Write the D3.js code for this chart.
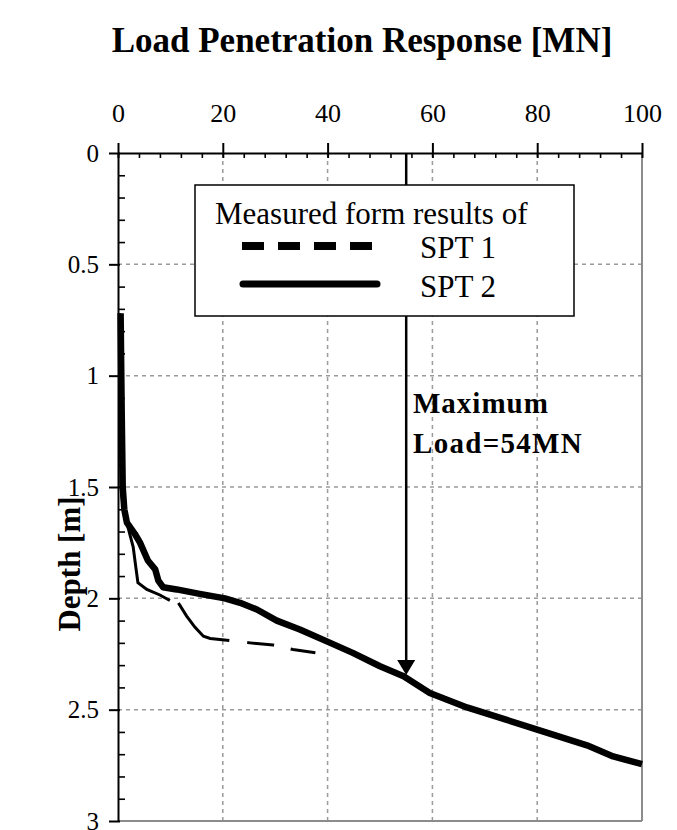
<!DOCTYPE html>
<html>
<head>
<meta charset="utf-8">
<script src="https://cdn.jsdelivr.net/npm/d3@7"></script>
<style>
  html, body { margin: 0; padding: 0; background: #fff; }
  svg { display: block; }
  text { font-family: "Liberation Serif", "Times New Roman", serif; fill: #000; }
</style>
</head>
<body>
<svg id="chart" width="677" height="830"></svg>
<script>
// ---- data ----
const xMajorTicks = [0, 20, 40, 60, 80, 100];
const yMajorTicks = [0, 0.5, 1, 1.5, 2, 2.5, 3];
const yTickLabels = ["0", "0.5", "1", "1.5", "2", "2.5", "3"];

const spt1Load  = [0.3, 0.5, 0.6, 1.0, 1.9, 2.9, 3.4, 3.8, 5.5, 8.0, 9.9, 11.5, 13.1, 14.7, 16.3, 17.6, 21.4, 25.2, 29.6, 33.4, 38.0];
const spt1Depth = [0.72, 1.15, 1.5, 1.6, 1.68, 1.77, 1.86, 1.93, 1.96, 1.985, 2.01, 2.02, 2.08, 2.13, 2.17, 2.18, 2.19, 2.2, 2.21, 2.23, 2.245];
const spt1SolidCount = 11; // points drawn as the continuous part

const spt2Load  = [0.5, 0.7, 0.9, 1.2, 1.7, 3.2, 4.2, 5.7, 7.1, 7.7, 8.6, 11.2, 15.6, 20.4, 23.3, 26.5, 30.3, 34.7, 40.5, 44.8, 50.0, 54.5, 59.5, 66.6, 74.2, 80.0, 89.5, 94.5, 100];
const spt2Depth = [0.72, 1.15, 1.5, 1.6, 1.66, 1.71, 1.75, 1.83, 1.87, 1.92, 1.95, 1.96, 1.98, 2.0, 2.02, 2.05, 2.10, 2.14, 2.2, 2.245, 2.305, 2.35, 2.425, 2.49, 2.546, 2.59, 2.66, 2.71, 2.745];

const maxLoad = 55;       // arrow position
const maxArrowDepth = 2.344;

const title = "Load Penetration Response [MN]";
const yTitle = "Depth [m]";
const legendTitle = "Measured form results of";
const seriesNames = ["SPT 1", "SPT 2"];
const annotation = ["Maximum", "Load=54MN"];

// ---- layout ----
const svg = d3.select("#chart");
const L = 118, R = 642, T = 153, B = 821;
const x = d3.scaleLinear().domain([0, 100]).range([L, R]);
const y = d3.scaleLinear().domain([0, 3]).range([T, B]);

// grid
const grid = svg.append("g");
grid.selectAll("line.gx").data(xMajorTicks.filter(v => v > 0 && v < 100)).join("line")
  .attr("x1", d => x(d)).attr("x2", d => x(d)).attr("y1", T).attr("y2", B)
  .attr("stroke", "#9a9a9a").attr("stroke-width", 1.5).attr("stroke-dasharray", "4,4");
grid.selectAll("line.gy").data(yMajorTicks.filter(v => v > 0 && v < 3)).join("line")
  .attr("x1", L).attr("x2", R).attr("y1", d => y(d)).attr("y2", d => y(d))
  .attr("stroke", "#9a9a9a").attr("stroke-width", 1.5).attr("stroke-dasharray", "4,4");

// right & bottom borders
svg.append("line").attr("x1", R).attr("x2", R).attr("y1", T).attr("y2", B)
  .attr("stroke", "#8c8c8c").attr("stroke-width", 2);
svg.append("line").attr("x1", L).attr("x2", R).attr("y1", B).attr("y2", B)
  .attr("stroke", "#8c8c8c").attr("stroke-width", 2);

// curves
const line = d3.line().x(d => x(d[0])).y(d => y(d[1]));
const spt1 = spt1Load.map((v, i) => [v, spt1Depth[i]]);
const spt2 = spt2Load.map((v, i) => [v, spt2Depth[i]]);

const tmp = svg.append("path").attr("d", line(spt1.slice(0, spt1SolidCount)));
const solidLen = tmp.node().getTotalLength();
tmp.remove();

svg.append("path").attr("d", line(spt1)).attr("fill", "none")
  .attr("stroke", "#000").attr("stroke-width", 3)
  .attr("stroke-dasharray", `${solidLen},9,68,18,27,17,25,400`);
svg.append("path").attr("d", line(spt2)).attr("fill", "none")
  .attr("stroke", "#000").attr("stroke-width", 6.5).attr("stroke-linejoin", "round");

// arrow
const ax = x(maxLoad), tipY = y(maxArrowDepth);
svg.append("line").attr("x1", ax).attr("x2", ax).attr("y1", T).attr("y2", tipY - 12)
  .attr("stroke", "#000").attr("stroke-width", 2.5);
svg.append("path").attr("d", `M${ax - 9},${tipY - 15}L${ax + 9},${tipY - 15}L${ax},${tipY}Z`)
  .attr("fill", "#000");

// axes
const topAxis = svg.append("g").attr("transform", `translate(0,${T})`)
  .call(d3.axisTop(x).tickValues(xMajorTicks).tickSize(10).tickSizeOuter(0).tickPadding(21).tickFormat(d3.format("d")));
topAxis.select(".domain").attr("stroke-width", 2);
topAxis.selectAll(".tick line").attr("y1", 5).attr("stroke-width", 2);
topAxis.selectAll(".tick text").attr("font-size", 26).attr("font-family", "Liberation Serif");

const xMinor = d3.range(0, 101, 4).filter(v => v % 20 !== 0);
svg.append("g").attr("transform", `translate(0,${T})`)
  .call(d3.axisTop(x).tickValues(xMinor).tickSize(-5).tickSizeOuter(0).tickFormat(""))
  .call(g => g.select(".domain").remove())
  .selectAll(".tick line").attr("stroke-width", 1.6);

const leftAxis = svg.append("g").attr("transform", `translate(${L},0)`)
  .call(d3.axisLeft(y).tickValues(yMajorTicks).tickSize(9).tickSizeOuter(0).tickPadding(10)
    .tickFormat((d, i) => yTickLabels[i]));
leftAxis.select(".domain").attr("stroke-width", 2);
leftAxis.selectAll(".tick line").attr("x1", 2).attr("stroke-width", 2);
leftAxis.selectAll(".tick text").attr("font-size", 25).attr("font-family", "Liberation Serif");

const yMinor = d3.range(1, 30).map(v => v / 10).filter(v => Math.abs(v * 2 - Math.round(v * 2)) > 1e-6);
svg.append("g").attr("transform", `translate(${L},0)`)
  .call(d3.axisLeft(y).tickValues(yMinor).tickSize(-7).tickSizeOuter(0).tickFormat(""))
  .call(g => g.select(".domain").remove())
  .selectAll(".tick line").attr("stroke-width", 1.6);

// legend
const lg = svg.append("g");
lg.append("rect").attr("x", 195).attr("y", 185).attr("width", 379).attr("height", 131)
  .attr("fill", "#fff").attr("stroke", "#000").attr("stroke-width", 1.5);
lg.append("text").attr("x", 215).attr("y", 224).attr("font-size", 31).text(legendTitle);
lg.append("line").attr("x1", 242).attr("x2", 376).attr("y1", 246).attr("y2", 246)
  .attr("stroke", "#000").attr("stroke-width", 8).attr("stroke-dasharray", "22,14");
lg.append("line").attr("x1", 243).attr("x2", 377).attr("y1", 284).attr("y2", 284)
  .attr("stroke", "#000").attr("stroke-width", 7).attr("stroke-linecap", "round");
lg.append("text").attr("x", 420).attr("y", 258).attr("font-size", 31).text(seriesNames[0]);
lg.append("text").attr("x", 420).attr("y", 297).attr("font-size", 31).text(seriesNames[1]);

// annotation
svg.append("text").attr("x", 413).attr("y", 413).attr("font-size", 29).attr("font-weight", "bold")
  .attr("letter-spacing", 1).text(annotation[0]);
svg.append("text").attr("x", 413).attr("y", 453).attr("font-size", 29).attr("font-weight", "bold")
  .attr("letter-spacing", 1.3).text(annotation[1]);

// titles
svg.append("text").attr("x", 362).attr("y", 52).attr("text-anchor", "middle")
  .attr("font-size", 35).attr("font-weight", "bold").text(title);
svg.append("text").attr("transform", `translate(80,564) rotate(-90)`).attr("text-anchor", "middle")
  .attr("font-size", 31).attr("font-weight", "bold").text(yTitle);
</script>
</body>
</html>
